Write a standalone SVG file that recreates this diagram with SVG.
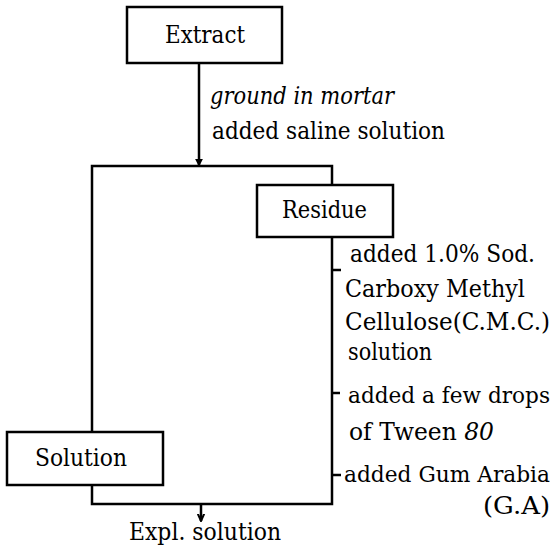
<svg xmlns="http://www.w3.org/2000/svg" width="557" height="560" viewBox="0 0 557 560">
<style>
.box{fill:#fff;stroke:#000;stroke-width:2.5}
.ln{fill:none;stroke:#000;stroke-width:2.5}
text{font-family:'DejaVu Serif','Liberation Serif',serif;font-size:23.5px;fill:#000}
.i{font-style:italic}
.s{font-size:21.5px}
</style>
<defs>
<marker id="ah" viewBox="0 0 10 10" refX="9" refY="5" markerWidth="3.2" markerHeight="3.2" orient="auto" markerUnits="strokeWidth">
<path d="M0,0 L10,5 L0,10 z" fill="#000"/>
</marker>
<marker id="ah2" viewBox="0 0 10 10" refX="9" refY="5" markerWidth="3.2" markerHeight="3.6" orient="auto" markerUnits="strokeWidth">
<path d="M0,1 L9,5 L0,9" fill="none" stroke="#000" stroke-width="2.5"/>
</marker>
</defs>
<g id="connectors">
<line class="ln" x1="199" y1="63" x2="199" y2="166" marker-end="url(#ah)"/>
<polyline class="ln" points="92,432 92,166 332,166 332,185"/>
<polyline class="ln" points="92,485 92,504 332,504 332,237"/>
<line class="ln" x1="332" y1="270" x2="341" y2="270"/>
<line class="ln" x1="332" y1="393" x2="340" y2="393"/>
<line class="ln" x1="332" y1="475" x2="341" y2="475"/>
<line class="ln" x1="201" y1="504" x2="201" y2="521" marker-end="url(#ah2)"/>
<text class="i" x="210" y="104" textLength="184" lengthAdjust="spacingAndGlyphs">ground in mortar</text>
<text x="212" y="139" textLength="233" lengthAdjust="spacingAndGlyphs">added saline solution</text>
<text x="350" y="262" textLength="185" lengthAdjust="spacingAndGlyphs">added 1.0% Sod.</text>
<text x="345" y="297" textLength="180" lengthAdjust="spacingAndGlyphs">Carboxy Methyl</text>
<text x="345" y="330" textLength="205" lengthAdjust="spacingAndGlyphs">Cellulose(C.M.C.)</text>
<text x="348" y="360" textLength="84" lengthAdjust="spacingAndGlyphs">solution</text>
<text class="s" x="348" y="403" textLength="202" lengthAdjust="spacingAndGlyphs">added a few drops</text>
<text x="349" y="440" textLength="145" lengthAdjust="spacingAndGlyphs">of Tween <tspan class="i">80</tspan></text>
<text class="s" x="344" y="482" textLength="206" lengthAdjust="spacingAndGlyphs">added Gum Arabia</text>
<text x="483" y="514" textLength="67" lengthAdjust="spacingAndGlyphs">(G.A)</text>
</g>
<g id="extract">
<rect class="box" x="127" y="7" width="155" height="56"/>
<text x="165" y="43" textLength="80" lengthAdjust="spacingAndGlyphs">Extract</text>
</g>
<g id="residue">
<rect class="box" x="257" y="185" width="136" height="52"/>
<text x="282" y="218" textLength="85" lengthAdjust="spacingAndGlyphs">Residue</text>
</g>
<g id="solution">
<rect class="box" x="7" y="432" width="156" height="53"/>
<text x="35" y="466" textLength="92" lengthAdjust="spacingAndGlyphs">Solution</text>
</g>
<g id="expl">
<text x="129" y="540" textLength="152" lengthAdjust="spacingAndGlyphs">Expl. solution</text>
</g>
</svg>
